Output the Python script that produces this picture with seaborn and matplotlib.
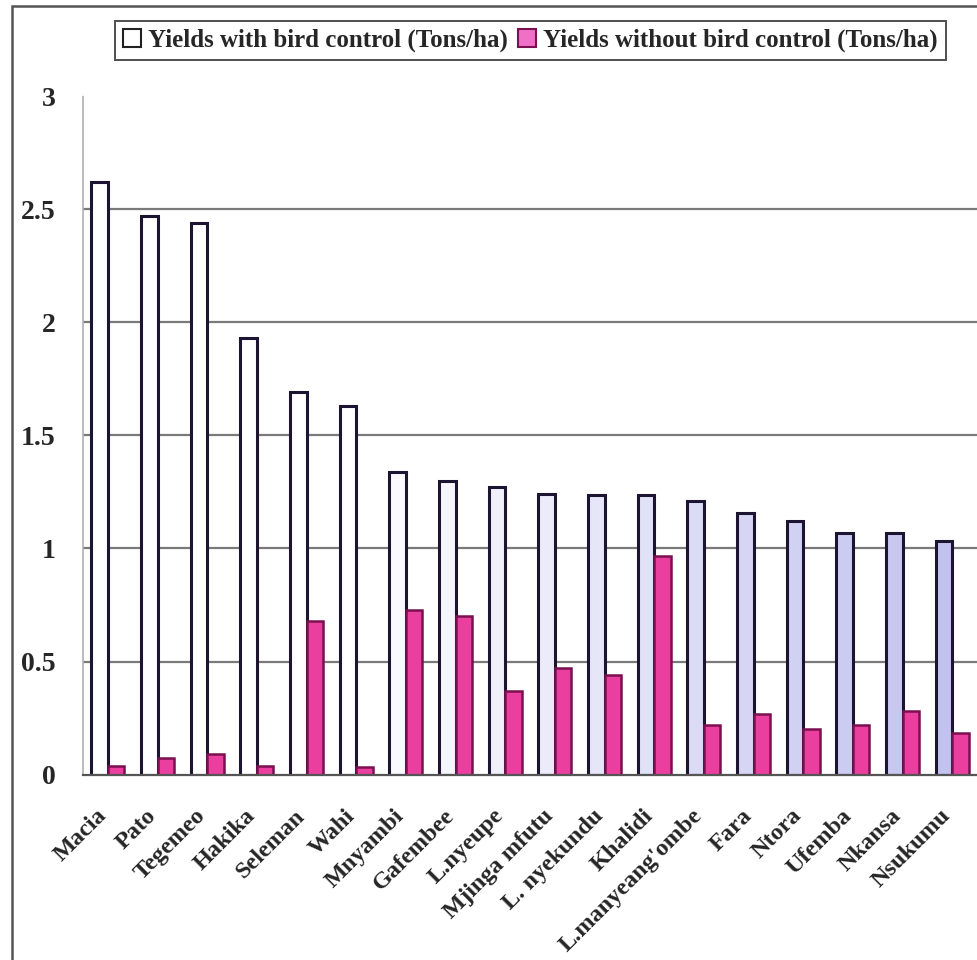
import numpy as np
import pandas as pd
import matplotlib
matplotlib.use("Agg")
import matplotlib.pyplot as plt
import matplotlib.colors as mcolors
import matplotlib.transforms as mtransforms
from matplotlib.patches import Rectangle, Patch
import seaborn as sns

# Sorghum varieties and their yields (Tons/ha)
varieties = ["Macia", "Pato", "Tegemeo", "Hakika", "Seleman", "Wahi", "Mnyambi",
             "Gafembee", "L.nyeupe", "Mjinga mfutu", "L. nyekundu", "Khalidi",
             "L.manyeang'ombe", "Fara", "Ntora", "Ufemba", "Nkansa", "Nsukumu"]
with_control = [2.62, 2.47, 2.44, 1.93, 1.69, 1.63, 1.34, 1.30, 1.27, 1.24, 1.235,
                1.235, 1.21, 1.155, 1.12, 1.07, 1.07, 1.035]
without_control = [0.04, 0.075, 0.09, 0.04, 0.68, 0.035, 0.73, 0.70, 0.37, 0.47,
                   0.44, 0.965, 0.22, 0.27, 0.20, 0.22, 0.28, 0.185]
series_names = ["Yields with bird control (Tons/ha)",
                "Yields without bird control (Tons/ha)"]
y_ticks = [0, 0.5, 1, 1.5, 2, 2.5, 3]
y_tick_labels = ["0", "0.5", "1", "1.5", "2", "2.5", "3"]

df = pd.DataFrame({
    "variety": varieties * 2,
    "series": [series_names[0]] * len(varieties) + [series_names[1]] * len(varieties),
    "yield": with_control + without_control,
})

sns.set_style("white")
plt.rcParams["font.family"] = ["Liberation Serif", "DejaVu Serif"]
plt.rcParams["font.weight"] = "bold"

fig = plt.figure(figsize=(9.77, 9.60), dpi=100)
ax = fig.add_axes([0.085, 0.193, 0.915, 0.707])

pink = "#ea3f9f"
pink_edge = "#7a1050"
navy_edge = "#1c1430"

sns.barplot(data=df, x="variety", y="yield", hue="series", order=varieties,
            hue_order=series_names, palette=["white", pink], width=0.66,
            gap=0, legend=False, ax=ax, saturation=1)

# first series: white shading into lavender across the categories
n = len(varieties)
lav = np.array(mcolors.to_rgb("#c2c2ef"))
wht = np.array([1.0, 1.0, 1.0])
for i, bar in enumerate(ax.containers[0]):
    t = max(0.0, (i - 5) / (n - 6))
    bar.set_facecolor(wht * (1 - t) + lav * t)
    bar.set_edgecolor(navy_edge)
    bar.set_linewidth(2.2)
for bar in ax.containers[1]:
    bar.set_facecolor(pink)
    bar.set_edgecolor(pink_edge)
    bar.set_linewidth(1.8)

ax.set_ylim(0, 3)
ax.set_xlim(-0.5, n - 0.5)
ax.set_yticks(y_ticks)
ax.set_yticklabels(y_tick_labels, fontsize=20, fontweight="bold")
for yv in y_ticks[1:-1]:
    ax.axhline(yv, color="#7a7a7a", lw=1.6, zorder=0)

ax.set_xticks(range(n))
ax.set_xticklabels(varieties, rotation=45, ha="right", rotation_mode="anchor",
                   fontsize=17.5, fontweight="bold")
ax.tick_params(axis="x", length=0, pad=22)
shift = mtransforms.ScaledTranslation(-0.12, 0, fig.dpi_scale_trans)
for lab in ax.get_xticklabels():
    lab.set_transform(lab.get_transform() + shift)
ax.set_xticks(np.arange(-0.5, n, 1), minor=True)
ax.tick_params(axis="x", which="minor", length=5, color="#777777", width=1.2)
ax.tick_params(axis="y", length=6, color="#999999", width=1.2, pad=14)
ax.set_xlabel("")
ax.set_ylabel("")

for side in ["top", "right"]:
    ax.spines[side].set_visible(False)
ax.spines["left"].set_color("#b0b0b0")
ax.spines["left"].set_linestyle((0, (3, 1)))
ax.spines["left"].set_linewidth(1.2)
ax.spines["bottom"].set_color("#555555")
ax.spines["bottom"].set_linewidth(1.6)

# chart-area frame
fig.patches.append(Rectangle((0.012, -0.02), 1.1, 1.014, transform=fig.transFigure,
                             fill=False, edgecolor="#555555", lw=1.8))

handles = [Patch(facecolor="white", edgecolor="#222222", lw=1.5),
           Patch(facecolor="#f070c8", edgecolor=pink_edge, lw=1.5)]
leg = fig.legend(handles, series_names, loc="center", ncol=2,
                 bbox_to_anchor=(0.543, 0.958), frameon=True, fancybox=False,
                 prop={"family": "Liberation Serif", "weight": "bold", "size": 18},
                 handlelength=0.7, handleheight=0.7, handletextpad=0.3,
                 columnspacing=0.4, borderpad=0.32, borderaxespad=0)
leg.get_frame().set_edgecolor("#222222")
leg.get_frame().set_linewidth(1.4)

fig.savefig("out.png", dpi=100)
